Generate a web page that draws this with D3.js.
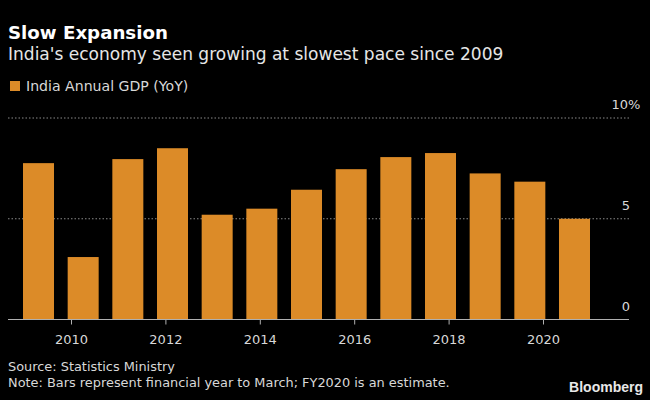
<!DOCTYPE html>
<html>
<head>
<meta charset="utf-8">
<script src="https://d3js.org/d3.v7.min.js"></script>
<style>
html,body{margin:0;padding:0;background:#000;}
svg{display:block;}
text{font-family:"DejaVu Sans",sans-serif;fill:#d8d8d8;}
</style>
</head>
<body>
<svg id="svg" width="650" height="400"></svg>
<script>
const categories=["2009","2010","2011","2012","2013","2014","2015","2016","2017","2018","2019","2020","2021"];
const gdp=[7.76,3.1,7.96,8.5,5.2,5.5,6.44,7.46,8.06,8.26,7.25,6.84,5.0];
const yTicks=[0,5,10];
const yTickLabels=["0","5","10%"];
const xTicks=[2010,2012,2014,2016,2018,2020];

const svg=d3.select("#svg");
svg.append("rect").attr("width",650).attr("height",400).attr("fill","#000");

const barColor="#dc8b28";
const x=d3.scaleBand().domain(categories).range([16.17,596.83]).paddingInner(0.306).paddingOuter(0.153);
const xAxisScale=d3.scaleLinear().domain([2010,2020]).range([71,543]);
const y=d3.scaleLinear().domain([0,10]).range([319.5,118]);

// dotted grid lines, under the bars
svg.append("g").selectAll("line").data(yTicks.filter(d=>d>0)).enter().append("line")
    .attr("x1",8).attr("x2",630)
    .attr("y1",d=>y(d)).attr("y2",d=>y(d))
    .attr("stroke","#8a8a8a").attr("stroke-width",1).attr("stroke-dasharray","1.5 2");

svg.append("g").selectAll("rect").data(gdp).enter().append("rect")
    .attr("x",(d,i)=>x(categories[i]))
    .attr("y",d=>y(d))
    .attr("width",x.bandwidth())
    .attr("height",d=>y(0)-y(d))
    .attr("fill",barColor);

// x axis has its own year scale, the ticks do not sit on the bars
const xAxis=d3.axisBottom(xAxisScale).tickValues(xTicks).tickFormat(d3.format("d")).tickSize(5).tickPadding(10);
const gx=svg.append("g").attr("transform","translate(0,319.5)").call(xAxis);
gx.select(".domain").remove();
gx.insert("line",":first-child").attr("x1",8).attr("x2",629).attr("stroke","#b0b0b0").attr("stroke-width",1);
gx.selectAll(".tick line").attr("stroke","#b0b0b0");
gx.selectAll(".tick text").style("font-family",'"DejaVu Sans",sans-serif').style("font-size","13px").style("fill","#d8d8d8");

svg.append("g").selectAll("text").data(yTicks).enter().append("text")
    .attr("x",626).attr("text-anchor","middle")
    .attr("y",d=>y(d)-9)
    .style("font-size","13px")
    .text((d,i)=>yTickLabels[i]);

svg.append("text").attr("x",8).attr("y",39).style("font-size","18.2px").style("font-weight",700).style("fill","#fff").text("Slow Expansion");
svg.append("text").attr("x",8).attr("y",60).style("font-size","17.05px").style("fill","#e6e6e6").text("India's economy seen growing at slowest pace since 2009");

svg.append("rect").attr("x",10).attr("y",81).attr("width",10).attr("height",10).attr("fill",barColor);
svg.append("text").attr("x",26).attr("y",91).style("font-size","14.1px").text("India Annual GDP (YoY)");

svg.append("text").attr("x",8).attr("y",371).style("font-size","12.9px").text("Source: Statistics Ministry");
svg.append("text").attr("x",8).attr("y",387).style("font-size","12.9px").text("Note: Bars represent financial year to March; FY2020 is an estimate.");
svg.append("text").attr("x",643).attr("y",392).attr("text-anchor","end").style("font-family","Liberation Sans").style("font-size","14px").style("font-weight",700).style("fill","#e8e8e8").text("Bloomberg");
</script>
</body>
</html>
